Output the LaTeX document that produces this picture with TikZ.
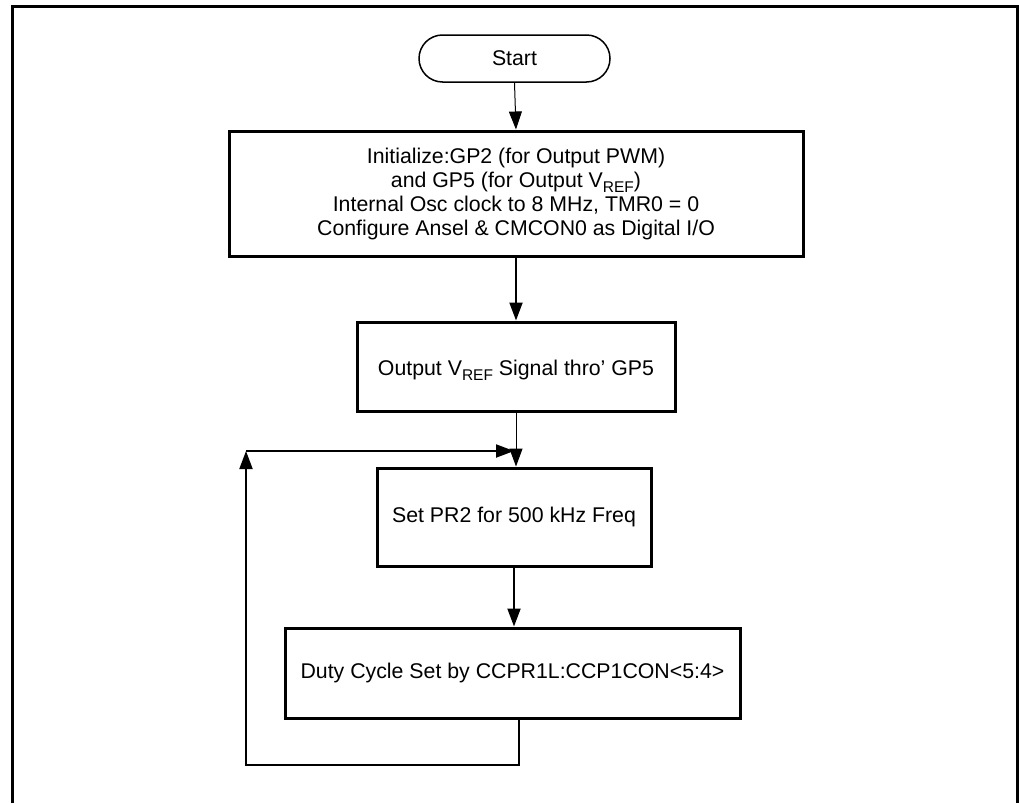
\documentclass[tikz,border=0pt]{standalone}
\usepackage{fontspec}
\setmainfont{Liberation Sans}
\usetikzlibrary{arrows.meta}
\newcommand{\vsub}[1]{\raisebox{-5pt}{\fontsize{15.5}{15.5}\selectfont #1}}
\begin{document}
\begin{tikzpicture}[x=1pt,y=-1pt,
  every node/.style={font=\fontsize{21.3}{24}\selectfont},
  procbox/.style={draw,line width=3pt,inner sep=0pt,align=center},
  term/.style={draw,line width=1.5pt,inner sep=0pt,rounded corners=23.5pt},
  conn/.style={line width=2pt,-{Triangle[length=18pt,width=13pt]}},
  thin conn/.style={line width=1pt,-{Triangle[length=18pt,width=13pt]}},
  frame/.style={line width=3pt}
]
\useasboundingbox (0,0) rectangle (1019,803);
% outer frame (open at the bottom)
\draw[frame] (12,803) -- (12,6) -- (1017,6) -- (1017,803);

\node[term,minimum width=191pt,minimum height=47pt] (start) at (514.5,58.5) {Start};
\node[procbox,minimum width=574pt,minimum height=125pt] (init) at (516,193.5)
  {Initialize:GP2 (for Output PWM)\\
   and GP5 (for Output V\vsub{REF})\\
   Internal Osc clock to 8 MHz, TMR0 = 0\\
   Configure Ansel \& CMCON0 as Digital I/O};
\node[procbox,minimum width=318pt,minimum height=89pt] (vref) at (516,366.5) {};
\node (vreft) at (516,370) {Output V\vsub{REF} Signal thro' GP5};
\node[procbox,minimum width=274pt,minimum height=98pt] (pr2) at (514,517)
  {Set PR2 for 500 kHz Freq};
\node[procbox,minimum width=455pt,minimum height=90pt] (duty) at (512.5,673)
  {Duty Cycle Set by CCPR1L:CCP1CON<5:4>};

\coordinate (lb) at (246,765);
\coordinate (lt) at (246,451);
\coordinate (jn) at (517,451);

\draw[thin conn] (start.south) -- (init.north);
\draw[conn] (init.south) -- (vref.north);
\draw[thin conn] (vref.south) -- (vref.south |- pr2.north);
\draw[conn] (pr2.south) -- (pr2.south |- duty.north);
\draw[conn] ([xshift=6pt]duty.south) |- (lb) -- (lt);
\draw[conn,shorten >=3pt] (lt) -- (jn);
\end{tikzpicture}
\end{document}
